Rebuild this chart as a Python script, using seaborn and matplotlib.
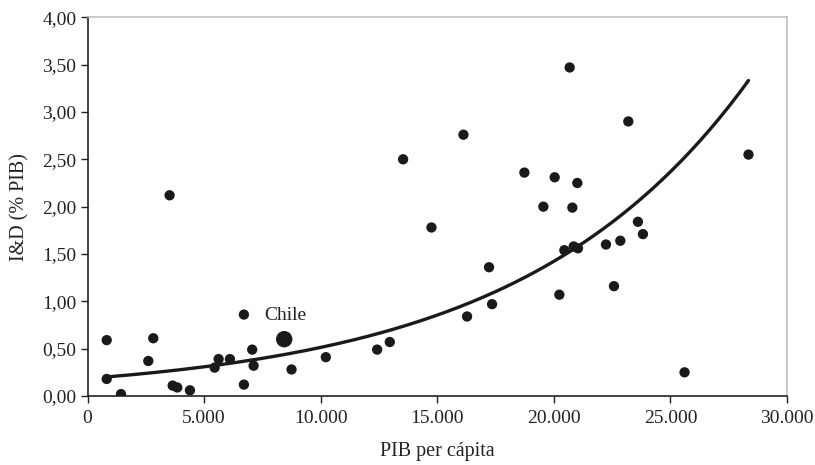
import numpy as np
import pandas as pd
import matplotlib
matplotlib.use('Agg')
import matplotlib.pyplot as plt
import seaborn as sns
from matplotlib.ticker import FuncFormatter

# PIB per capita y gasto en I&D (% del PIB)
pib = [823, 823, 1436, 2606, 2820, 3520, 3652, 3849, 4393, 5452, 5623, 6107,
       6707, 6707, 7063, 7123, 8750, 10221, 12422, 12965, 13536, 14752, 16123,
       16279, 17222, 17351, 18737, 19552, 20037, 20237, 20451, 20680, 20795,
       20851, 21009, 21036, 22237, 22580, 22852, 23195, 23607, 23822, 25607,
       28350]
iyd = [0.59, 0.18, 0.02, 0.37, 0.61, 2.12, 0.11, 0.09, 0.06, 0.30, 0.39, 0.39,
       0.86, 0.12, 0.49, 0.32, 0.28, 0.41, 0.49, 0.57, 2.50, 1.78, 2.76,
       0.84, 1.36, 0.97, 2.36, 2.00, 2.31, 1.07, 1.54, 3.47, 1.99,
       1.58, 2.25, 1.56, 1.60, 1.16, 1.64, 2.90, 1.84, 1.71, 0.25,
       2.55]
chile_pib = 8436
chile_iyd = 0.60

x_ticks = [0, 5000, 10000, 15000, 20000, 25000, 30000]
y_ticks = [0, 0.5, 1.0, 1.5, 2.0, 2.5, 3.0, 3.5, 4.0]

df = pd.DataFrame({"pib": pib, "iyd": iyd})

# linea de tendencia exponencial (como la de Excel), ajustada a los datos
todos_x = np.array(pib + [chile_pib])
todos_y = np.array(iyd + [chile_iyd])
b, ln_a = np.polyfit(todos_x, np.log(todos_y), 1)
xs = np.linspace(todos_x.min(), todos_x.max(), 200)
tendencia = pd.DataFrame({"pib": xs, "iyd": np.exp(ln_a) * np.exp(b * xs)})

sns.set_style("white")
plt.rcParams['font.family'] = ['Liberation Serif', 'DejaVu Serif']

fig = plt.figure(figsize=(8.15, 4.65), dpi=100)
ax = fig.add_axes([0.1074, 0.1484, 0.8582, 0.8144])

sns.lineplot(data=tendencia, x="pib", y="iyd", ax=ax, color="#1a1a1a", linewidth=2.4)
sns.scatterplot(data=df, x="pib", y="iyd", ax=ax, color="#1a1a1a", s=55,
                edgecolor="none", zorder=3)
ax.scatter([chile_pib], [chile_iyd], s=140, color="#1a1a1a", edgecolor="none", zorder=4)
ax.annotate("Chile", (chile_pib, chile_iyd), xytext=(1, 17), textcoords="offset points",
            ha="center", va="center", fontsize=14, color="#222222")

ax.set_xlim(0, 30000)
ax.set_ylim(0, 4)
ax.set_xticks(x_ticks)
ax.set_yticks(y_ticks)
ax.xaxis.set_major_formatter(FuncFormatter(lambda v, p: f"{int(v):,}".replace(",", ".")))
ax.yaxis.set_major_formatter(FuncFormatter(lambda v, p: f"{v:.2f}".replace(".", ",")))
ax.tick_params(axis="both", direction="out", length=5, width=1, colors="#222222",
               labelsize=14, left=True, bottom=True)
ax.tick_params(axis="x", pad=5)
ax.tick_params(axis="y", pad=3)

for lado in ["left", "bottom"]:
    ax.spines[lado].set_color("#222222")
    ax.spines[lado].set_linewidth(1.2)
for lado in ["top", "right"]:
    ax.spines[lado].set_color("#c0c0c0")
    ax.spines[lado].set_linewidth(1.2)

ax.set_xlabel("PIB per cápita", fontsize=14.5, color="#222222", labelpad=11)
ax.set_ylabel("I&D (% PIB)", fontsize=14.5, color="#222222", labelpad=9)

fig.savefig("out.png", dpi=100)
